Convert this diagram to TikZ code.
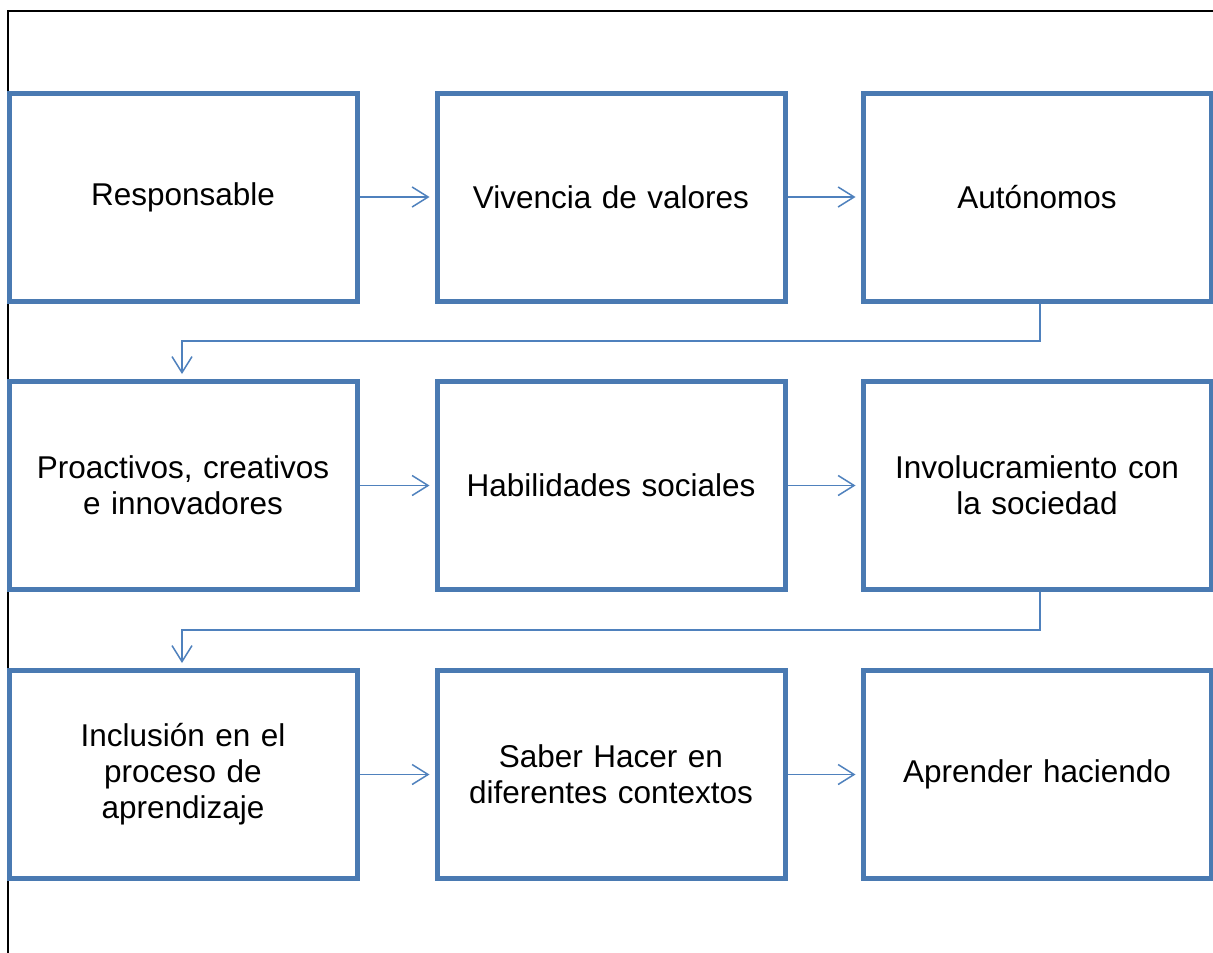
\documentclass[tikz,border=0pt]{standalone}
\usepackage{fontspec}
\setmainfont{Liberation Sans}
\usetikzlibrary{arrows.meta}
\definecolor{boxblue}{RGB}{74,122,178}
\definecolor{lineblue}{RGB}{79,129,189}
\begin{document}
\begin{tikzpicture}[x=1pt,y=-1pt,
  stepbox/.style={draw=boxblue,line width=5pt,minimum width=348pt,minimum height=208pt,
    inner sep=0pt,text width=330pt,align=center,font=\fontsize{31.5}{36}\selectfont},
  conn/.style={draw=lineblue,line width=1.5pt,
    -{Straight Barb[length=16pt,width=20pt,line width=1.5pt]},shorten >=5pt}]
\useasboundingbox (0,0) rectangle (1213,953);
\draw[black,line width=2pt] (8,953) -- (8,11) -- (1213,11);
\node[stepbox] (r1c1) at (183,197) {Responsable};
\node[stepbox] (r1c2) at (611,197) {Vivencia de valores};
\node[stepbox] (r1c3) at (1037,197) {Autónomos};
\node[stepbox] (r2c1) at (183,485.5) {Proactivos, creativos\\e innovadores};
\node[stepbox] (r2c2) at (611,485.5) {Habilidades sociales};
\node[stepbox] (r2c3) at (1037,485.5) {Involucramiento con\\la sociedad};
\node[stepbox] (r3c1) at (183,774.5) {Inclusión en el\\proceso de\\aprendizaje};
\node[stepbox] (r3c2) at (611,774.5) {Saber Hacer en\\diferentes contextos};
\node[stepbox] (r3c3) at (1037,774.5) {Aprender haciendo};
\draw[conn] (r1c1.east) -- (r1c2.west);
\draw[conn] (r1c2.east) -- (r1c3.west);
\draw[conn] (r2c1.east) -- (r2c2.west);
\draw[conn] (r2c2.east) -- (r2c3.west);
\draw[conn] (r3c1.east) -- (r3c2.west);
\draw[conn] (r3c2.east) -- (r3c3.west);
\coordinate (k1) at (1040,341);
\coordinate (k2) at (182,341);
\draw[conn] (r1c3.south -| k1) -- (k1) -- (k2) -- (r2c1.north -| k2);
\coordinate (k3) at (1040,630);
\coordinate (k4) at (182,630);
\draw[conn] (r2c3.south -| k3) -- (k3) -- (k4) -- (r3c1.north -| k4);
\end{tikzpicture}
\end{document}
